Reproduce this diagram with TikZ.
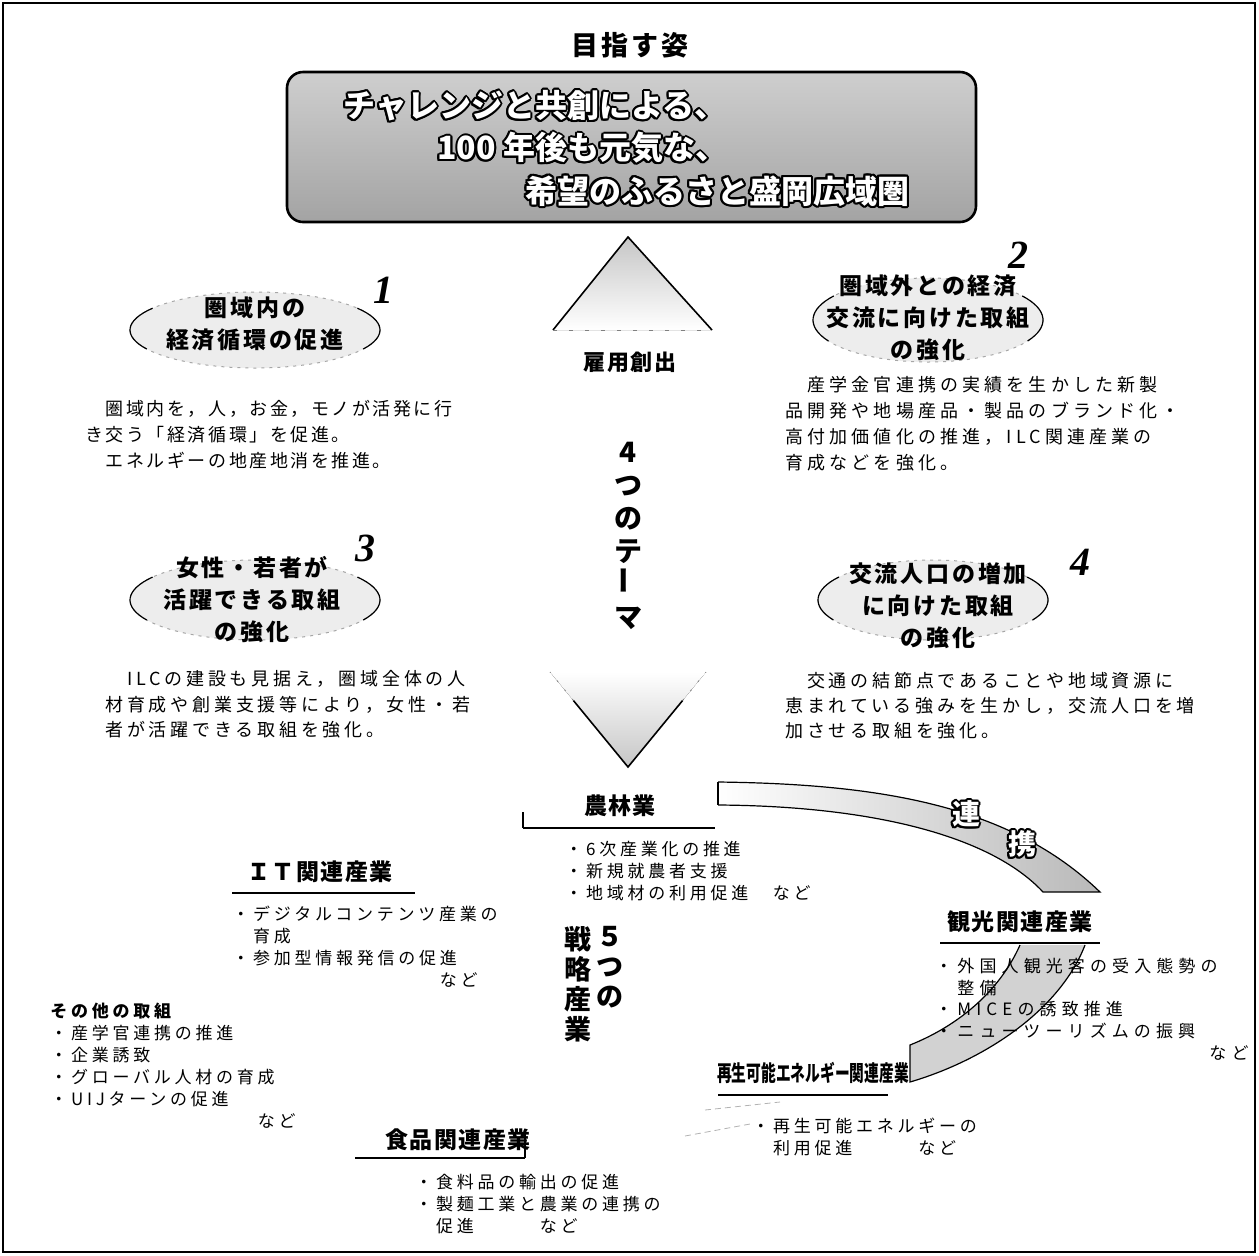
\documentclass[tikz,border=0pt]{standalone}
\usepackage{fontspec}
\setmainfont{Noto Sans CJK JP}
\newfontfamily\numfont{Liberation Serif}
\usepackage{contour}
\contourlength{1pt}
\usetikzlibrary{shapes.geometric,calc}
\begin{document}
\begin{tikzpicture}[x=0.5pt,y=-0.5pt,
  body/.style={anchor=north west, inner sep=0, align=left,
    font={\fontsize{9}{13}\selectfont\addfontfeature{LetterSpace=20}}},
  small/.style={anchor=north west, inner sep=0, align=left,
    font={\fontsize{8.5}{11}\selectfont\addfontfeature{LetterSpace=22}}},
  hdr/.style={inner sep=0, font={\fontsize{11.5}{14}\selectfont\bfseries\addfontfeature{LetterSpace=6}}},
  ttl/.style={inner sep=0, align=center, font={\fontsize{11.5}{16}\selectfont\bfseries\addfontfeature{LetterSpace=12}}},
  num/.style={inner sep=0, font={\fontsize{20}{20}\numfont\bfseries\itshape}},
  ell/.style={fill=gray!14, draw=gray!70, dash pattern=on 1.5pt off 2.5pt, line width=0.5pt},
  paren/.style={draw=black, line width=0.6pt},
  uline/.style={line width=1.3pt, black},
  big/.style={inner sep=0, anchor=west, text=white,
    font={\fontsize{16}{18}\selectfont\bfseries}},
  band/.style={draw=black, line width=0.6pt}
]
\useasboundingbox (0,0) rectangle (1259,1255);
% frame
\draw[line width=0.6pt] (3,3) rectangle (1255,1252);

% title
\node (mezasu) [inner sep=0, font={\fontsize{13.5}{16}\selectfont\bfseries\addfontfeature{LetterSpace=12}}] at (630,45) {目指す姿};
\node (goal) [draw=black, line width=1.3pt, rounded corners=8pt, top color=gray!38, bottom color=gray!72,
  minimum width=344.5pt, minimum height=75pt, inner sep=0] at (631.5,147) {};
\node (g1) [big] at (343,107) {\contour{black}{チャレンジと共創による、}};
\node (g2) [big] at (437,149) {\contour{black}{100 年後も元気な、}};
\node (g3) [big] at (525,192) {\contour{black}{希望のふるさと盛岡広域圏}};

% upper triangle
\coordinate (ta) at (628,237);
\coordinate (tl) at (553,330);
\coordinate (tr) at (712,330);
\fill[top color=gray!45, bottom color=white] (ta) -- (tl) -- (tr) -- cycle;
\draw[line width=0.8pt] (tl) -- (ta) -- (tr);
\draw[gray, dash pattern=on 2pt off 6pt] (tl) -- (tr);
\node (koyo) [inner sep=0, font={\fontsize{11}{13}\selectfont\bfseries\addfontfeature{LetterSpace=8}}] at (630,362) {雇用創出};

% vertical theme text
\node (theme) [inner sep=0, align=center, font={\fontsize{14}{16.5}\selectfont\bfseries}] at (628,536)
  {4\\つ\\の\\テ\\\rotatebox{90}{ー}\\マ};

% lower triangle
\coordinate (la) at (628,767);
\coordinate (ll) at (550,672);
\coordinate (lr) at (706,672);
\fill[bottom color=gray!45, top color=white] (ll) -- (lr) -- (la) -- cycle;
\draw[line width=0.8pt] ($(ll)!0.3!(la)$) -- (la) -- ($(lr)!0.3!(la)$);
\draw[gray, dash pattern=on 1pt off 5pt] ($(ll)!0.3!(la)$) -- (ll);
\draw[gray, dash pattern=on 1pt off 5pt] ($(lr)!0.3!(la)$) -- (lr);

% theme 1
\coordinate (e1) at (255,330);
\draw[ell] (e1) ellipse [x radius=125, y radius=38];
\draw[paren] ([shift={(150:125 and 38)}]e1) arc [start angle=150, end angle=215, x radius=125, y radius=38];
\draw[paren] ([shift={(-35:125 and 38)}]e1) arc [start angle=-35, end angle=30, x radius=125, y radius=38];
\node (t1) [ttl] at (255,324) {圏域内の\\経済循環の促進};
\node (n1) [num] at (383,290) {1};
\node (b1) [body, font={\fontsize{9}{13}\selectfont\addfontfeature{LetterSpace=14}}] at (85,400)
  {　圏域内を，人，お金，モノが活発に行\\き交う「経済循環」を促進。\\　エネルギーの地産地消を推進。};

% theme 2
\coordinate (e2) at (928,320);
\draw[ell] (e2) ellipse [x radius=115, y radius=42];
\draw[paren] ([shift={(150:115 and 42)}]e2) arc [start angle=150, end angle=215, x radius=115, y radius=42];
\draw[paren] ([shift={(-35:115 and 42)}]e2) arc [start angle=-35, end angle=30, x radius=115, y radius=42];
\node (t2) [ttl] at (928,318) {圏域外との経済\\交流に向けた取組\\の強化};
\node (n2) [num] at (1018,255) {2};
\node (b2) [body, font={\fontsize{9}{13}\selectfont\addfontfeature{LetterSpace=23}}] at (785,376)
  {　産学金官連携の実績を生かした新製\\品開発や地場産品・製品のブランド化・\\高付加価値化の推進，ILC関連産業の\\育成などを強化。};

% theme 3
\coordinate (e3) at (255,600);
\draw[ell] (e3) ellipse [x radius=125, y radius=40];
\draw[paren] ([shift={(150:125 and 40)}]e3) arc [start angle=150, end angle=215, x radius=125, y radius=40];
\draw[paren] ([shift={(-35:125 and 40)}]e3) arc [start angle=-35, end angle=30, x radius=125, y radius=40];
\node (t3) [ttl] at (252,600) {女性・若者が\\活躍できる取組\\の強化};
\node (n3) [num] at (365,548) {3};
\node (b3) [body, font={\fontsize{9}{12.8}\selectfont\addfontfeature{LetterSpace=21}}] at (105,670)
  {　ILCの建設も見据え，圏域全体の人\\材育成や創業支援等により，女性・若\\者が活躍できる取組を強化。};

% theme 4
\coordinate (e4) at (933,600);
\draw[ell] (e4) ellipse [x radius=115, y radius=40];
\draw[paren] ([shift={(150:115 and 40)}]e4) arc [start angle=150, end angle=215, x radius=115, y radius=40];
\draw[paren] ([shift={(-35:115 and 40)}]e4) arc [start angle=-35, end angle=30, x radius=115, y radius=40];
\node (t4) [ttl] at (938,606) {交流人口の増加\\に向けた取組\\の強化};
\node (n4) [num] at (1080,562) {4};
\node (b4) [body, font={\fontsize{9}{12.5}\selectfont\addfontfeature{LetterSpace=21}}] at (785,672)
  {　交通の結節点であることや地域資源に\\恵まれている強みを生かし，交流人口を増\\加させる取組を強化。};

% renkei band (upper)
\shade[left color=white, right color=gray!55]
  (718,782) .. controls (880,784) and (1010,805) .. (1100,892) -- (1043,892)
  .. controls (990,835) and (870,806) .. (718,805) -- cycle;
\draw[band] (718,782) .. controls (880,784) and (1010,805) .. (1100,892) -- (1043,892)
  .. controls (990,835) and (870,806) .. (718,805);
\draw[line width=0.8pt] (718,782) -- (718,805);
\node (ren) [inner sep=0, text=white, font={\fontsize{14}{14}\selectfont\bfseries}] at (966,815) {\contour{black}{連}};
\node (kei) [inner sep=0, text=white, font={\fontsize{14}{14}\selectfont\bfseries}] at (1022,845) {\contour{black}{携}};

% band (lower)
\fill[gray!35] (1020,945) .. controls (1000,990) and (960,1025) .. (910,1045) -- (910,1082)
  .. controls (985,1060) and (1060,1010) .. (1085,945) -- cycle;
\draw[band] (1020,945) .. controls (1000,990) and (960,1025) .. (910,1045) -- (910,1082)
  .. controls (985,1060) and (1060,1010) .. (1085,945);

% strategy industries
\node (h1) [hdr] at (620,806) {農林業};
\draw[uline] (523,828) -- (715,828);
\draw[line width=0.8pt] (523,812) -- (523,828);
\node (s1) [small] at (565,841) {・6次産業化の推進\\・新規就農者支援\\・地域材の利用促進　など};

\node (h2) [hdr] at (320,872) {ＩＴ関連産業};
\draw[uline] (232,893) -- (415,893);
\node (s2) [small] at (232,906) {・デジタルコンテンツ産業の\\　育成\\・参加型情報発信の促進\\　　　　　　　　　　など};

\node (v1) [inner sep=0, anchor=north, align=center, font={\fontsize{13.5}{15}\selectfont\bfseries}] at (610,926) {５\\つ\\の};
\node (v2) [inner sep=0, anchor=north, align=center, font={\fontsize{13.5}{15}\selectfont\bfseries}] at (578,926) {戦\\略\\産\\業};

\node (s3) [small] at (50,1003) {{\bfseries その他の取組}\\・産学官連携の推進\\・企業誘致\\・グローバル人材の育成\\・UIJターンの促進\\　　　　　　　　　　など};

\node (h3) [hdr] at (1020,922) {観光関連産業};
\draw[uline] (940,943) -- (1100,943);
\node (s4) [small, font={\fontsize{8.5}{10.8}\selectfont\addfontfeature{LetterSpace=30}}] at (935,958)
  {・外国人観光客の受入態勢の\\　整備\\・MICEの誘致推進\\・ニューツーリズムの振興\\\hspace*{137pt}など};

\node (h4) [hdr, xscale=0.67, font={\fontsize{11}{14}\selectfont\bfseries}] at (813,1073) {再生可能エネルギー関連産業};
\draw[uline] (718,1095) -- (888,1095);
\node (s5) [small] at (752,1118) {・再生可能エネルギーの\\　利用促進　　　など};
\coordinate (l1a) at (685,1136);
\coordinate (l1b) at (750,1124);
\coordinate (l2a) at (705,1110);
\coordinate (l2b) at (780,1102);
\draw[gray!60, dash pattern=on 3pt off 2pt, line width=0.4pt] (l1a) -- (l1b);
\draw[gray!60, dash pattern=on 3pt off 2pt, line width=0.4pt] (l2a) -- (l2b);

\node (h5) [hdr] at (458,1140) {食品関連産業};
\draw[uline] (355,1158) -- (525,1158);
\draw[line width=0.8pt] (525,1130) -- (525,1158);
\node (s6) [small] at (415,1174) {・食料品の輸出の促進\\・製麺工業と農業の連携の\\　促進　　　など};
\end{tikzpicture}
\end{document}
